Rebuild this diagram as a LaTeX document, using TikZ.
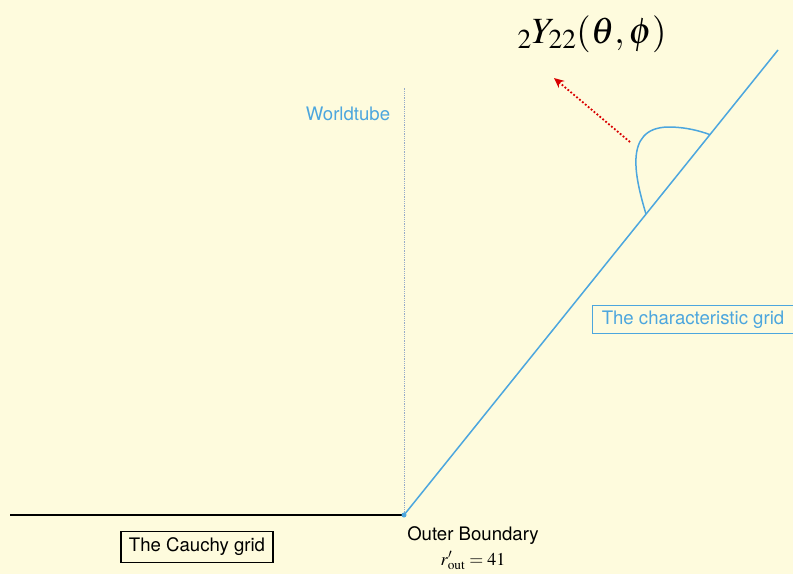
\documentclass[tikz,border=0pt]{standalone}
\usepackage{mathptmx}
\usepackage[no-math]{fontspec}
\setmainfont{TeX Gyre Heros}
\usetikzlibrary{arrows.meta,positioning,calc}
\definecolor{bgyellow}{RGB}{254,251,221}
\definecolor{charblue}{RGB}{76,166,222}
\definecolor{tubeblue}{RGB}{150,170,200}

\begin{document}
\begin{tikzpicture}[
  x=1pt, y=-1pt,
  lbl/.style={font=\fontsize{18.6}{22}\selectfont, inner sep=0pt},
  gridbox/.style={draw, line width=1.2pt, inner xsep=8pt, inner ysep=6.5pt, font=\fontsize{18.6}{22}\selectfont},
  charline/.style={charblue, line width=1.5pt},
  arr/.style={-{Stealth[length=10pt, width=9pt]}},
]

% Background and page size
\fill[bgyellow] (0,0) rectangle (793,574);
\useasboundingbox (0,0) rectangle (793,574);

% Key points
\coordinate (left) at (10,515);
\coordinate (ob) at (404,515);
\coordinate (tubetop) at (404,88);
\coordinate (tip) at (778,50);
\coordinate (arcA) at ($(ob)!0.647!(tip)$);
\coordinate (arcB) at ($(ob)!0.818!(tip)$);

% Cauchy grid
\draw[line width=1.5pt] (left) -- (ob);
\node[gridbox] (cauchy) at (197,547) {The Cauchy grid};

% Worldtube
\draw[tubeblue, densely dotted, line width=0.8pt] (ob) -- (tubetop);
\node[lbl, charblue] (tube) at (348,114) {Worldtube};

% Characteristic grid
\draw[charline] (ob) -- (tip);
\fill[charblue] (ob) circle (2.5pt);
\node[gridbox, draw=charblue, text=charblue, line width=1pt, inner xsep=9pt, inner ysep=5pt] (chargrid) at (693,319.5) {The characteristic grid};

% Angle and mode
\draw[charline] (arcA) .. controls (636,180) and (622,128) .. (668,127)
  .. controls (686,127) and (700,131) .. (arcB);
\coordinate (rs) at (630,142);
\coordinate (re) at (554,78);
\draw[arr, red!85!black, dotted, line width=1.8pt] (rs) -- (re);
\node[font=\fontsize{37}{42}\selectfont] (mode) at (592,34) {${}_2Y_{22}(\theta,\phi)$};

% Outer boundary
\node[lbl, anchor=north] (outer) at (473,526) {Outer Boundary};
\node[font=\fontsize{18}{21}\selectfont, below=7pt of outer, inner sep=0pt] (rout) {$r'_{\mathrm{out}} = 41$};

\end{tikzpicture}
\end{document}
